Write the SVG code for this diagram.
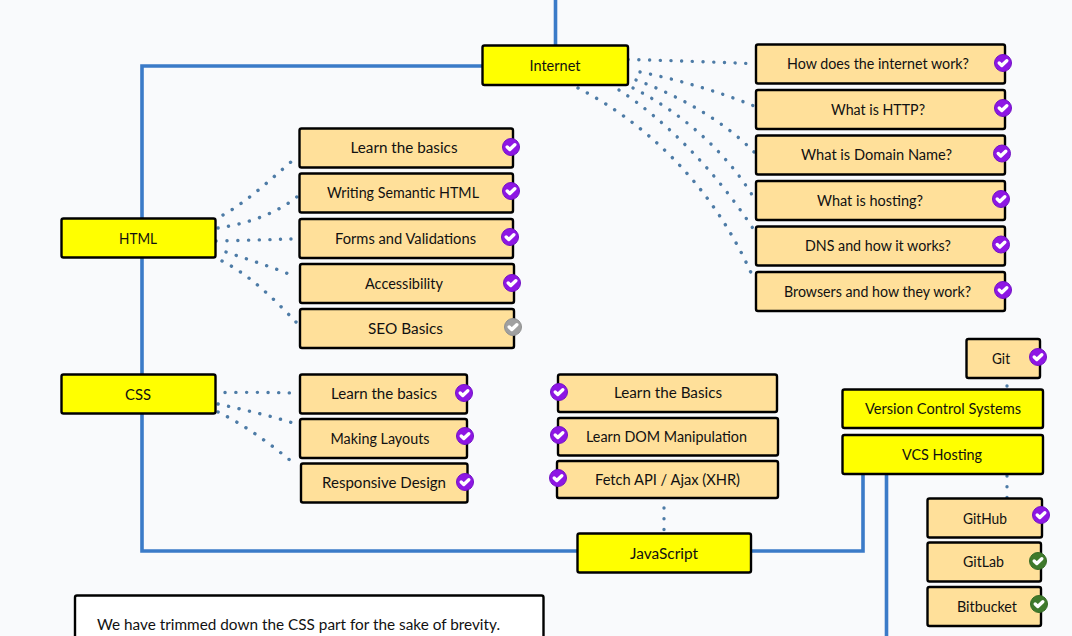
<svg xmlns="http://www.w3.org/2000/svg" xmlns:xlink="http://www.w3.org/1999/xlink" width="1072" height="636" viewBox="0 0 1072 636">
<style>
text{font-family:"Lato","Noto Sans",sans-serif;font-size:14.5px;fill:#111;text-anchor:middle}
.t rect,.s rect,.n rect{stroke:#000;stroke-width:2.4}
.t rect{fill:#ffff00}
.s rect{fill:#ffe09a}
.n rect{fill:#fff}
.b{fill:none;stroke:#3b7bc8;stroke-width:3.6}
.d{fill:none;stroke:#4d7ba6;stroke-width:3.4;stroke-linecap:round;stroke-dasharray:.1 10.6}
.c{fill:#8e16e4;stroke:#7212c4;stroke-width:1}
.g{fill:#3f7a2c;stroke:#356b25;stroke-width:1}
.y{fill:#a0a0a0;stroke:#909090;stroke-width:1}
.m{fill:none;stroke:#fff;stroke-width:3.4;stroke-linecap:round;stroke-linejoin:round}
</style>
<defs>
<path id="k" class="m" d="M-3.800 0 -1.200 2.500 3.800-2.300"/>
</defs>
<rect width="1072" height="636" fill="#f9fafc"/>
<g id="connectors">
<path class="b" d="M555.500 0V45"/>
<path class="b" d="M482 66H142V551H577"/>
<path class="b" d="M751 551H863V474"/>
<path class="b" d="M886.500 474V636"/>
<path class="d" d="M628 59.500Q690 61 749 63.500"/>
<path class="d" d="M640 72C680 80 720 92 754 106"/>
<path class="d" d="M636 80C680 96 725 122 754 152"/>
<path class="d" d="M633 88C680 112 725 150 754 198"/>
<path class="d" d="M619 90C665 120 715 170 754 230"/>
<path class="d" d="M578 88C640 120 710 180 752 275"/>
<path class="d" d="M223 215C250 200 275 175 298 156"/>
<path class="d" d="M218 228C245 224 275 215 298 196"/>
<path class="d" d="M216 241Q255 240 292 239"/>
<path class="d" d="M226 252C250 260 275 268 296 277"/>
<path class="d" d="M222 261C250 275 275 300 296 322"/>
<path class="d" d="M225 392.500Q260 392 294 393"/>
<path class="d" d="M218 404C245 410 272 416 296 424"/>
<path class="d" d="M218 412C245 425 272 445 297 466"/>
<path class="d" d="M664 508V531"/>
<path class="d" d="M1007 386V389"/>
<path class="d" d="M1007 476V498"/>
</g>
<g id="n-internet" class="t"><rect x="482.500" y="45.500" width="145.500" height="39.500" rx="2"/><text x="555" y="71" textLength="51" lengthAdjust="spacingAndGlyphs">Internet</text></g>
<g id="n-how" class="s"><rect x="756" y="44.500" width="249" height="39" rx="2"/><text x="878" y="69" textLength="182" lengthAdjust="spacingAndGlyphs">How does the internet work?</text><circle class="c" cx="1003" cy="63" r="8.500"/><use xlink:href="#k" href="#k" x="1003" y="63"/></g>
<g id="n-http" class="s"><rect x="756" y="90" width="249" height="39" rx="2"/><text x="878" y="115" textLength="94" lengthAdjust="spacingAndGlyphs">What is HTTP?</text><circle class="c" cx="1003" cy="108" r="8.500"/><use xlink:href="#k" href="#k" x="1003" y="108"/></g>
<g id="n-domain" class="s"><rect x="756" y="135.500" width="249" height="39" rx="2"/><text x="876.500" y="160" textLength="151" lengthAdjust="spacingAndGlyphs">What is Domain Name?</text><circle class="c" cx="1002" cy="153.500" r="8.500"/><use xlink:href="#k" href="#k" x="1002" y="153.500"/></g>
<g id="n-hosting" class="s"><rect x="756" y="181" width="249" height="39" rx="2"/><text x="870" y="206" textLength="106" lengthAdjust="spacingAndGlyphs">What is hosting?</text><circle class="c" cx="1001" cy="199" r="8.500"/><use xlink:href="#k" href="#k" x="1001" y="199"/></g>
<g id="n-dns" class="s"><rect x="756" y="226.500" width="249" height="39" rx="2"/><text x="878" y="251" textLength="146" lengthAdjust="spacingAndGlyphs">DNS and how it works?</text><circle class="c" cx="1001" cy="244.500" r="8.500"/><use xlink:href="#k" href="#k" x="1001" y="244.500"/></g>
<g id="n-browsers" class="s"><rect x="756" y="272" width="249" height="39" rx="2"/><text x="877.500" y="297" textLength="187" lengthAdjust="spacingAndGlyphs">Browsers and how they work?</text><circle class="c" cx="1003" cy="290" r="8.500"/><use xlink:href="#k" href="#k" x="1003" y="290"/></g>
<g id="n-html" class="t"><rect x="61.500" y="218.500" width="154" height="39" rx="2"/><text x="138" y="244" textLength="38" lengthAdjust="spacingAndGlyphs">HTML</text></g>
<g id="n-basics" class="s"><rect x="299.500" y="128.500" width="213.500" height="39" rx="2"/><text x="404" y="153" textLength="107" lengthAdjust="spacingAndGlyphs">Learn the basics</text><circle class="c" cx="511" cy="147" r="8.500"/><use xlink:href="#k" href="#k" x="511" y="147"/></g>
<g id="n-semantic" class="s"><rect x="299.500" y="173.500" width="213.500" height="39" rx="2"/><text x="403" y="198" textLength="152" lengthAdjust="spacingAndGlyphs">Writing Semantic HTML</text><circle class="c" cx="511" cy="191" r="8.500"/><use xlink:href="#k" href="#k" x="511" y="191"/></g>
<g id="n-forms" class="s"><rect x="299.500" y="219" width="213.500" height="39" rx="2"/><text x="405.500" y="244" textLength="141" lengthAdjust="spacingAndGlyphs">Forms and Validations</text><circle class="c" cx="510" cy="237" r="8.500"/><use xlink:href="#k" href="#k" x="510" y="237"/></g>
<g id="n-access" class="s"><rect x="300" y="264" width="214" height="39" rx="2"/><text x="404" y="289" textLength="78" lengthAdjust="spacingAndGlyphs">Accessibility</text><circle class="c" cx="512" cy="283" r="8.500"/><use xlink:href="#k" href="#k" x="512" y="283"/></g>
<g id="n-seo" class="s"><rect x="300" y="309" width="214" height="39" rx="2"/><text x="405.500" y="334" textLength="75" lengthAdjust="spacingAndGlyphs">SEO Basics</text><circle class="y" cx="513" cy="327" r="8.500"/><use xlink:href="#k" href="#k" x="513" y="327"/></g>
<g id="n-css" class="t"><rect x="61.500" y="374.500" width="154" height="39" rx="2"/><text x="138" y="400" textLength="26" lengthAdjust="spacingAndGlyphs">CSS</text></g>
<g id="n-cssbasics" class="s"><rect x="300" y="374.500" width="167" height="39" rx="2"/><text x="384" y="399" textLength="106" lengthAdjust="spacingAndGlyphs">Learn the basics</text><circle class="c" cx="464" cy="393" r="8.500"/><use xlink:href="#k" href="#k" x="464" y="393"/></g>
<g id="n-layouts" class="s"><rect x="300" y="419" width="167" height="39" rx="2"/><text x="380" y="444" textLength="99" lengthAdjust="spacingAndGlyphs">Making Layouts</text><circle class="c" cx="465" cy="436" r="8.500"/><use xlink:href="#k" href="#k" x="465" y="436"/></g>
<g id="n-responsive" class="s"><rect x="301" y="463.500" width="166.500" height="39" rx="2"/><text x="384" y="488" textLength="124" lengthAdjust="spacingAndGlyphs">Responsive Design</text><circle class="c" cx="465" cy="482" r="8.500"/><use xlink:href="#k" href="#k" x="465" y="482"/></g>
<g id="n-jsbasics" class="s"><rect x="558" y="374.500" width="219" height="37.500" rx="2"/><text x="668" y="398" textLength="108" lengthAdjust="spacingAndGlyphs">Learn the Basics</text><circle class="c" cx="559" cy="392" r="8.500"/><use xlink:href="#k" href="#k" x="559" y="392"/></g>
<g id="n-dom" class="s"><rect x="558" y="418" width="220" height="37.500" rx="2"/><text x="666.500" y="442" textLength="161" lengthAdjust="spacingAndGlyphs">Learn DOM Manipulation</text><circle class="c" cx="559" cy="435" r="8.500"/><use xlink:href="#k" href="#k" x="559" y="435"/></g>
<g id="n-fetch" class="s"><rect x="557" y="461" width="221" height="37" rx="2"/><text x="667.500" y="485" textLength="145" lengthAdjust="spacingAndGlyphs">Fetch API / Ajax (XHR)</text><circle class="c" cx="558" cy="478" r="8.500"/><use xlink:href="#k" href="#k" x="558" y="478"/></g>
<g id="n-js" class="t"><rect x="577.500" y="533.500" width="173.500" height="39" rx="2"/><text x="664" y="559" textLength="68" lengthAdjust="spacingAndGlyphs">JavaScript</text></g>
<g id="n-git" class="s"><rect x="966.500" y="339" width="73.500" height="39" rx="2"/><text x="1001" y="364" textLength="18" lengthAdjust="spacingAndGlyphs">Git</text><circle class="c" cx="1038" cy="357" r="8.500"/><use xlink:href="#k" href="#k" x="1038" y="357"/></g>
<g id="n-vcs" class="t"><rect x="842.500" y="389.500" width="200.500" height="38.500" rx="2"/><text x="943" y="414" textLength="156" lengthAdjust="spacingAndGlyphs">Version Control Systems</text></g>
<g id="n-vcshost" class="t"><rect x="842.500" y="435" width="200.500" height="39" rx="2"/><text x="942" y="460" textLength="80" lengthAdjust="spacingAndGlyphs">VCS Hosting</text></g>
<g id="n-github" class="s"><rect x="927.500" y="498.500" width="114.500" height="39" rx="2"/><text x="985" y="524" textLength="44" lengthAdjust="spacingAndGlyphs">GitHub</text><circle class="c" cx="1041" cy="515" r="8.500"/><use xlink:href="#k" href="#k" x="1041" y="515"/></g>
<g id="n-gitlab" class="s"><rect x="927.500" y="542.500" width="113.500" height="39" rx="2"/><text x="983.500" y="567" textLength="41" lengthAdjust="spacingAndGlyphs">GitLab</text><circle class="g" cx="1038" cy="561" r="8.500"/><use xlink:href="#k" href="#k" x="1038" y="561"/></g>
<g id="n-bitbucket" class="s"><rect x="927.500" y="587" width="113.500" height="39" rx="2"/><text x="987" y="612" textLength="60" lengthAdjust="spacingAndGlyphs">Bitbucket</text><circle class="g" cx="1039" cy="604" r="8.500"/><use xlink:href="#k" href="#k" x="1039" y="604"/></g>
<g id="n-note" class="n"><rect x="75" y="595.500" width="468.500" height="60" rx="2"/><text x="97" y="630" textLength="403" lengthAdjust="spacingAndGlyphs" style="text-anchor:start">We have trimmed down the CSS part for the sake of brevity.</text></g>
</svg>
